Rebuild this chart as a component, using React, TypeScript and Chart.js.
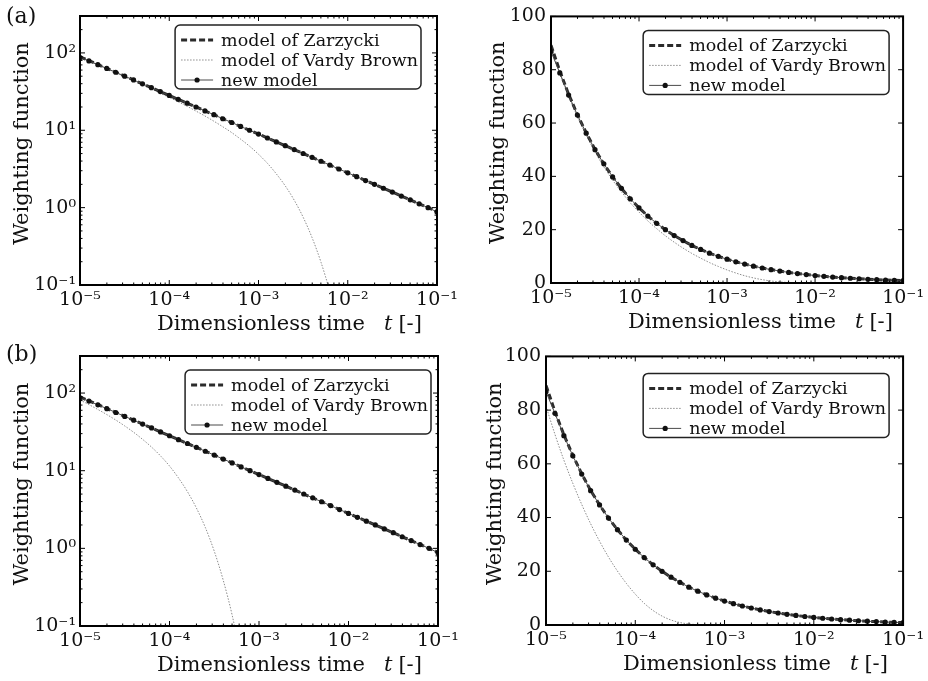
import React, { useEffect, useRef } from 'react';
import { Chart, registerables } from 'chart.js';

Chart.register(...registerables);

const FONT = '"DejaVu Serif", serif';

// Dimensionless time samples (10 per decade, 1e-5 .. 1e-1)
const TIME = [
  1e-5, 1.259e-5, 1.585e-5, 1.995e-5, 2.512e-5, 3.162e-5, 3.981e-5, 5.012e-5, 6.31e-5, 7.943e-5,
  1e-4, 1.259e-4, 1.585e-4, 1.995e-4, 2.512e-4, 3.162e-4, 3.981e-4, 5.012e-4, 6.31e-4, 7.943e-4,
  1e-3, 1.259e-3, 1.585e-3, 1.995e-3, 2.512e-3, 3.162e-3, 3.981e-3, 5.012e-3, 6.31e-3, 7.943e-3,
  1e-2, 1.259e-2, 1.585e-2, 1.995e-2, 2.512e-2, 3.162e-2, 3.981e-2, 5.012e-2, 6.31e-2, 7.943e-2,
  1e-1,
];

// model of Zarzycki (same in (a) and (b))
const ZARZYCKI = [
  89.2, 79.5, 70.8, 63.2, 56.3, 50.1, 44.7, 39.8, 35.5, 31.6,
  28.2, 25.1, 22.4, 20.0, 17.8, 15.9, 14.1, 12.6, 11.2, 10.0,
  8.92, 7.95, 7.08, 6.32, 5.63, 5.01, 4.47, 3.98, 3.55, 3.16,
  2.82, 2.51, 2.24, 2.0, 1.78, 1.59, 1.41, 1.26, 1.12, 1.0,
  0.89,
];

// new model (markers)
const NEW_MODEL = [
  86.8, 78.8, 70.5, 63.0, 56.2, 50.0, 44.7, 39.8, 35.5, 31.6,
  28.2, 25.1, 22.4, 20.0, 17.8, 15.9, 14.1, 12.6, 11.2, 10.0,
  8.92, 7.95, 7.08, 6.32, 5.63, 5.01, 4.47, 3.98, 3.55, 3.16,
  2.82, 2.51, 2.24, 2.0, 1.78, 1.59, 1.41, 1.26, 1.12, 1.0,
  0.88,
];

// model of Vardy Brown, case (a)
const VARDY_A = [
  88.7, 78.9, 70.1, 62.4, 55.5, 49.2, 43.6, 38.6, 34.2, 30.1,
  26.6, 23.3, 20.4, 17.7, 15.3, 13.1, 11.1, 9.33, 7.67, 6.22,
  4.9, 3.74, 2.73, 1.91, 1.25, 0.753, 0.41, 0.197, 0.081, 0.027,
  0.007, 0.001, 0, 0, 0, 0, 0, 0, 0, 0,
  0,
];

// model of Vardy Brown, case (b)
const VARDY_B = [
  81.5, 71.0, 61.4, 52.8, 44.9, 37.7, 31.2, 25.3, 20.1, 15.5,
  11.5, 8.08, 5.38, 3.32, 1.86, 0.92, 0.39, 0.138, 0.038, 0.008,
  0.001, 0, 0, 0, 0, 0, 0, 0, 0, 0,
  0, 0, 0, 0, 0, 0, 0, 0, 0, 0,
  0,
];

const LEGEND_LABELS = ['model of Zarzycki', 'model of Vardy Brown', 'new model'];

const X_TICK_VALUES = [1e-5, 1e-4, 1e-3, 1e-2, 1e-1];
const X_TICK_LABELS = ['10⁻⁵', '10⁻⁴', '10⁻³', '10⁻²', '10⁻¹'];
const LOG_Y_TICK_VALUES = [0.1, 1, 10, 100];
const LOG_Y_TICK_LABELS = ['10⁻¹', '10⁰', '10¹', '10²'];
const LIN_Y_TICK_VALUES = [0, 20, 40, 60, 80, 100];
const LIN_Y_TICK_LABELS = ['0', '20', '40', '60', '80', '100'];

const X_TITLE = ['Dimensionless time', 't', '[-]'];
const Y_TITLE = 'Weighting function';

type PanelSpec = {
  x: number; y: number; w: number; h: number;
  area: { left: number; right: number; top: number; bottom: number };
  logY: boolean;
  vardy: number[];
  legend: { rightGap: number; topGap: number };
  yTitleX: number;
  label?: string;
  labelY?: number;
};

const PANELS: PanelSpec[] = [
  { x: 0, y: 0, w: 464, h: 340, area: { left: 80, right: 437, top: 16, bottom: 285 }, logY: true, vardy: VARDY_A, legend: { rightGap: 16, topGap: 9 }, yTitleX: 23, label: '(a)', labelY: 23 },
  { x: 464, y: 0, w: 464, h: 340, area: { left: 87, right: 443, top: 16, bottom: 283 }, logY: false, vardy: VARDY_A, legend: { rightGap: 14, topGap: 14 }, yTitleX: 35 },
  { x: 0, y: 340, w: 464, h: 341, area: { left: 80, right: 438, top: 16, bottom: 286 }, logY: true, vardy: VARDY_B, legend: { rightGap: 7, topGap: 14 }, yTitleX: 23, label: '(b)', labelY: 21 },
  { x: 464, y: 340, w: 464, h: 341, area: { left: 82, right: 442, top: 16, bottom: 285 }, logY: false, vardy: VARDY_B, legend: { rightGap: 14, topGap: 17 }, yTitleX: 32 },
];

function near(a: number, b: number) {
  return Math.abs(a - b) <= Math.abs(b) * 1e-6 + 1e-12;
}
function labelFor(v: number, vals: number[], labels: string[]) {
  const i = vals.findIndex((t) => near(v, t));
  return i >= 0 ? labels[i] : '';
}
function isIntegerMantissa(v: number) {
  if (v <= 0) return true;
  const e = Math.floor(Math.log10(v) + 1e-9);
  const m = v / Math.pow(10, e);
  return Math.abs(m - Math.round(m)) < 1e-6;
}

const decorPlugin = {
  id: 'decor',
  afterDatasetsDraw(chart: any, _args: any, opts: any) {
    const p: PanelSpec = opts.panel;
    const { ctx, chartArea: a, scales } = chart;
    const xs = scales.x;
    const ys = scales.y;
    ctx.save();
    ctx.setLineDash([]);
    ctx.strokeStyle = '#000';
    ctx.lineWidth = 1;
    const seg = (x1: number, y1: number, x2: number, y2: number) => {
      ctx.beginPath(); ctx.moveTo(x1, y1); ctx.lineTo(x2, y2); ctx.stroke();
    };
    // inward tick marks on x (top and bottom)
    for (const t of xs.ticks) {
      if (!isIntegerMantissa(t.value)) continue;
      const px = xs.getPixelForValue(t.value);
      if (px < a.left - 0.5 || px > a.right + 0.5) continue;
      const major = X_TICK_VALUES.some((v) => near(t.value, v));
      const len = major ? 5 : 2.5;
      seg(px, a.bottom, px, a.bottom - len);
      seg(px, a.top, px, a.top + len);
    }
    // inward tick marks on y (left and right)
    for (const t of ys.ticks) {
      if (p.logY && !isIntegerMantissa(t.value)) continue;
      const py = ys.getPixelForValue(t.value);
      if (py < a.top - 0.5 || py > a.bottom + 0.5) continue;
      const major = p.logY ? LOG_Y_TICK_VALUES.some((v) => near(t.value, v)) : true;
      const len = major ? 5 : 2.5;
      seg(a.left, py, a.left + len, py);
      seg(a.right, py, a.right - len, py);
    }
    // frame
    ctx.lineWidth = 2;
    ctx.strokeRect(a.left, a.top, a.right - a.left, a.bottom - a.top);

    // legend
    const LF = `17.5px ${FONT}`;
    ctx.font = LF;
    const maxW = Math.max(...LEGEND_LABELS.map((s) => ctx.measureText(s).width));
    const bw = 46 + maxW + 3;
    const bh = 64;
    const right = a.right - p.legend.rightGap;
    const left = right - bw;
    const top = a.top + p.legend.topGap;
    const r = 5;
    ctx.beginPath();
    ctx.moveTo(left + r, top);
    ctx.lineTo(right - r, top);
    ctx.arcTo(right, top, right, top + r, r);
    ctx.lineTo(right, top + bh - r);
    ctx.arcTo(right, top + bh, right - r, top + bh, r);
    ctx.lineTo(left + r, top + bh);
    ctx.arcTo(left, top + bh, left, top + bh - r, r);
    ctx.lineTo(left, top + r);
    ctx.arcTo(left, top, left + r, top, r);
    ctx.closePath();
    ctx.fillStyle = '#fff';
    ctx.fill();
    ctx.strokeStyle = '#222';
    ctx.lineWidth = 1.5;
    ctx.stroke();
    const dsList = chart.data.datasets;
    for (let i = 0; i < 3; i++) {
      const ds = dsList[i];
      const cy = top + 15 + i * 20;
      ctx.save();
      ctx.strokeStyle = ds.borderColor;
      ctx.lineWidth = ds.borderWidth;
      ctx.setLineDash(ds.borderDash || []);
      seg(left + 6, cy, left + 38, cy);
      ctx.restore();
      if (ds.pointRadius > 0) {
        ctx.beginPath();
        ctx.fillStyle = ds.pointBackgroundColor;
        ctx.arc(left + 22, cy, ds.pointRadius, 0, Math.PI * 2);
        ctx.fill();
      }
      ctx.fillStyle = '#111';
      ctx.textAlign = 'left';
      ctx.textBaseline = 'middle';
      ctx.font = LF;
      ctx.fillText(LEGEND_LABELS[i], left + 46, cy + 1);
    }

    // x title with italic t
    ctx.fillStyle = '#111';
    ctx.textBaseline = 'alphabetic';
    ctx.textAlign = 'left';
    const by = a.bottom + 45;
    let tx = a.left + 77;
    ctx.font = `21px ${FONT}`;
    ctx.fillText(X_TITLE[0], tx, by);
    tx += ctx.measureText(X_TITLE[0]).width + 19;
    ctx.font = `italic 21px ${FONT}`;
    ctx.fillText(X_TITLE[1], tx, by);
    tx += ctx.measureText(X_TITLE[1]).width + 6;
    ctx.font = `21px ${FONT}`;
    ctx.fillText(X_TITLE[2], tx, by);

    // y title
    ctx.save();
    ctx.translate(p.yTitleX, (a.top + a.bottom) / 2 - 7);
    ctx.rotate(-Math.PI / 2);
    ctx.textAlign = 'center';
    ctx.textBaseline = 'middle';
    ctx.font = `21px ${FONT}`;
    ctx.fillText(Y_TITLE, 0, 0);
    ctx.restore();

    // panel label
    if (p.label) {
      ctx.font = `22px ${FONT}`;
      ctx.textAlign = 'left';
      ctx.textBaseline = 'alphabetic';
      ctx.fillText(p.label, 6, p.labelY);
    }
    ctx.restore();
  },
};

function makeConfig(p: PanelSpec): any {
  const pts = (ys: number[]) =>
    TIME.map((t, i) => ({ x: t, y: ys[i] })).filter((d) => !p.logY || d.y > 0);
  return {
    type: 'line',
    data: {
      datasets: [
        {
          label: LEGEND_LABELS[0], data: pts(ZARZYCKI), borderColor: '#2b2b2b', borderWidth: 3,
          borderDash: [6, 3], pointRadius: 0, fill: false, order: 1,
        },
        {
          label: LEGEND_LABELS[1], data: pts(p.vardy), borderColor: '#8c8c8c', borderWidth: 1,
          borderDash: [1.5, 1.5], pointRadius: 0, fill: false, cubicInterpolationMode: 'monotone', order: 2,
        },
        {
          label: LEGEND_LABELS[2], data: pts(NEW_MODEL), borderColor: '#4a4a4a', borderWidth: 1,
          pointRadius: 2.6, pointBackgroundColor: '#111', pointBorderColor: '#111', pointBorderWidth: 0,
          fill: false, order: 0,
        },
      ],
    },
    options: {
      responsive: false,
      animation: false,
      events: [],
      layout: { padding: { left: 0, top: p.area.top, right: p.w - p.area.right, bottom: 0 } },
      plugins: {
        legend: { display: false },
        tooltip: { enabled: false },
        decor: { panel: p },
      },
      scales: {
        x: {
          type: 'logarithmic',
          min: 1e-5,
          max: 0.1,
          grid: { display: false, drawTicks: false },
          border: { display: false },
          ticks: {
            autoSkip: false, maxRotation: 0, minRotation: 0, padding: 4, color: '#111',
            font: { family: FONT, size: 19 },
            callback: (v: any) => labelFor(Number(v), X_TICK_VALUES, X_TICK_LABELS),
          },
          afterFit: (s: any) => { s.height = p.h - p.area.bottom; },
        },
        y: p.logY
          ? {
              type: 'logarithmic', min: 0.1, max: 300,
              grid: { display: false, drawTicks: false },
              border: { display: false },
              ticks: {
                autoSkip: false, padding: 4, color: '#111', font: { family: FONT, size: 19 },
                callback: (v: any) => labelFor(Number(v), LOG_Y_TICK_VALUES, LOG_Y_TICK_LABELS),
              },
              afterFit: (s: any) => { s.width = p.area.left; },
            }
          : {
              type: 'linear', min: 0, max: 100,
              grid: { display: false, drawTicks: false },
              border: { display: false },
              ticks: {
                autoSkip: false, stepSize: 20, padding: 5, color: '#111', font: { family: FONT, size: 19 },
                callback: (v: any) => labelFor(Number(v), LIN_Y_TICK_VALUES, LIN_Y_TICK_LABELS),
              },
              afterFit: (s: any) => { s.width = p.area.left; },
            },
      },
    },
    plugins: [decorPlugin],
  };
}

function Panel({ p }: { p: PanelSpec }) {
  const ref = useRef<HTMLCanvasElement>(null);
  useEffect(() => {
    const chart = new Chart(ref.current as HTMLCanvasElement, makeConfig(p));
    return () => chart.destroy();
  }, [p]);
  return (
    <canvas
      ref={ref}
      width={p.w}
      height={p.h}
      style={{ position: 'absolute', left: p.x, top: p.y, width: p.w, height: p.h, display: 'block' }}
    />
  );
}

export default function App() {
  return (
    <div style={{ position: 'absolute', left: 0, top: 0, width: 928, height: 681, background: '#fff', overflow: 'hidden' }}>
      {PANELS.map((p, i) => (
        <Panel key={i} p={p} />
      ))}
    </div>
  );
}
